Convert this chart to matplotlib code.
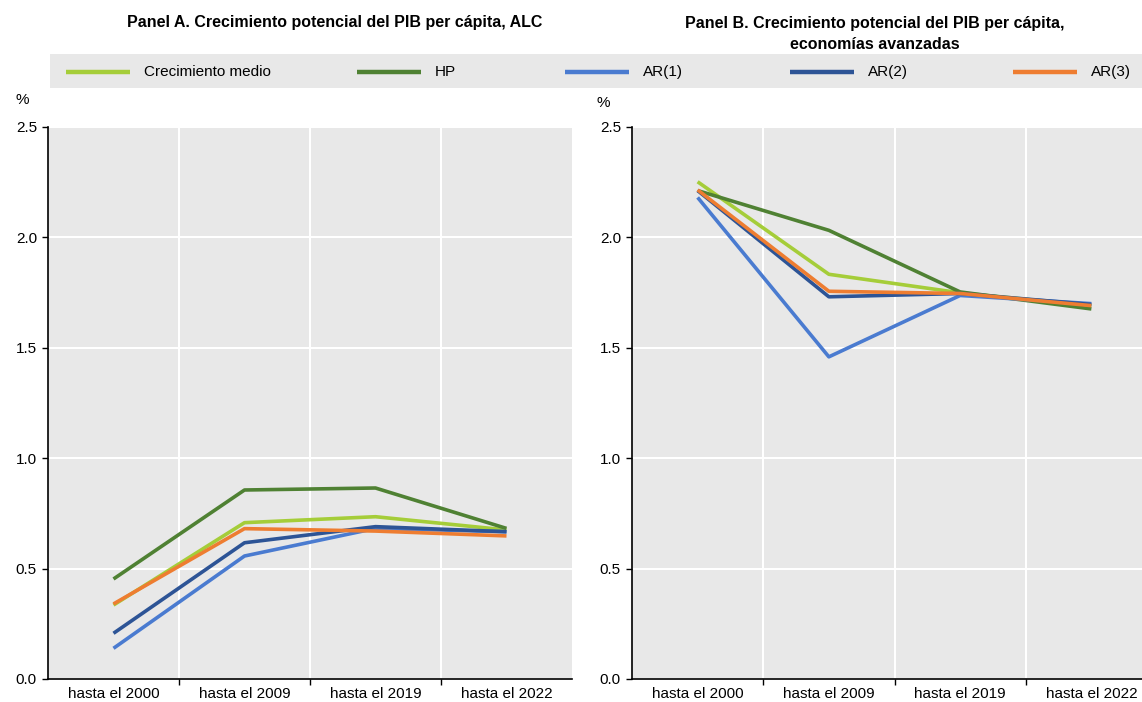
import matplotlib
matplotlib.use("Agg")
import matplotlib.pyplot as plt
from matplotlib.lines import Line2D
from matplotlib.patches import Rectangle

plt.rcParams['font.family'] = ['Liberation Sans Narrow', 'Liberation Sans', 'DejaVu Sans']

categories = ["hasta el 2000", "hasta el 2009", "hasta el 2019", "hasta el 2022"]
series_names = ["Crecimiento medio", "HP", "AR(1)", "AR(2)", "AR(3)"]
colors = ["#A5CD39", "#4F8133", "#4A7BD0", "#2D5496", "#EE7D31"]

# Panel A: ALC
a_medio = [0.335, 0.708, 0.735, 0.675]
a_hp = [0.453, 0.856, 0.865, 0.682]
a_ar1 = [0.139, 0.557, 0.682, 0.667]
a_ar2 = [0.207, 0.617, 0.690, 0.667]
a_ar3 = [0.340, 0.681, 0.670, 0.648]

# Panel B: economías avanzadas
b_medio = [2.252, 1.833, 1.749, 1.691]
b_hp = [2.212, 2.032, 1.753, 1.676]
b_ar1 = [2.181, 1.459, 1.737, 1.700]
b_ar2 = [2.212, 1.731, 1.746, 1.696]
b_ar3 = [2.215, 1.756, 1.746, 1.691]

yticks = [0.0, 0.5, 1.0, 1.5, 2.0, 2.5]
ytick_labels = ["0.0", "0.5", "1.0", "1.5", "2.0", "2.5"]

title_a = "Panel A. Crecimiento potencial del PIB per cápita, ALC"
title_b = "Panel B. Crecimiento potencial del PIB per cápita,\neconomías avanzadas"

W, H = 1142, 702
fig = plt.figure(figsize=(W / 100, H / 100), dpi=100)

def fx(px):
    return px / W

def fy(py):
    return 1 - py / H

ax_a = fig.add_axes([fx(48), fy(679), fx(572) - fx(48), fy(127) - fy(679)])
ax_b = fig.add_axes([fx(632), fy(679), fx(1157) - fx(632), fy(127) - fy(679)])

panels = [
    (ax_a, [a_medio, a_hp, a_ar1, a_ar2, a_ar3]),
    (ax_b, [b_medio, b_hp, b_ar1, b_ar2, b_ar3]),
]

x = list(range(len(categories)))
for ax, data in panels:
    ax.set_facecolor("#E8E8E8")
    for i in range(len(series_names)):
        ax.plot(x, data[i], color=colors[i], lw=2.6, solid_capstyle="butt",
                label=series_names[i], zorder=3 + (i if i != 1 else 0))
    ax.set_xlim(-0.5, len(categories) - 0.5)
    ax.set_ylim(0, 2.5)
    ax.set_yticks(yticks)
    ax.set_yticklabels(ytick_labels, fontsize=11)
    ax.set_xticks(x)
    ax.set_xticklabels(categories, fontsize=11)
    ax.set_xticks([0.5, 1.5, 2.5], minor=True)
    ax.tick_params(axis="x", which="major", length=0, pad=6)
    ax.tick_params(axis="x", which="minor", length=4, width=1, direction="out")
    ax.tick_params(axis="y", length=4, width=1, direction="out", pad=4)
    ax.grid(True, axis="y", color="white", lw=1.5, zorder=1)
    ax.grid(True, axis="x", which="minor", color="white", lw=1.5, zorder=1)
    ax.set_axisbelow(True)
    for s in ["top", "right"]:
        ax.spines[s].set_visible(False)
    for s in ["left", "bottom"]:
        ax.spines[s].set_color("black")
        ax.spines[s].set_linewidth(1.2)

fig.text(fx(22), fy(100), "%", fontsize=11, ha="center", va="center")
fig.text(fx(603), fy(103), "%", fontsize=11, ha="center", va="center")

fig.text(fx(335), fy(22), title_a, fontsize=11.5, fontweight="bold", ha="center", va="center")
fig.text(fx(875), fy(34), title_b, fontsize=11.5, fontweight="bold", ha="center", va="center",
         linespacing=1.45)

# Legend band
fig.patches.append(Rectangle((fx(50), fy(88)), fx(1142) - fx(50), fy(54) - fy(88),
                             transform=fig.transFigure, facecolor="#E8E8E8", edgecolor="none",
                             zorder=0))
key_starts = [66, 357, 565, 790, 1013]
for i, name in enumerate(series_names):
    x0 = key_starts[i]
    fig.lines.append(Line2D([fx(x0), fx(x0 + 64)], [fy(72), fy(72)], transform=fig.transFigure,
                            color=colors[i], lw=3.2, solid_capstyle="butt"))
    fig.text(fx(x0 + 78), fy(72), name, fontsize=11, ha="left", va="center")

fig.savefig("out.png", dpi=100)
